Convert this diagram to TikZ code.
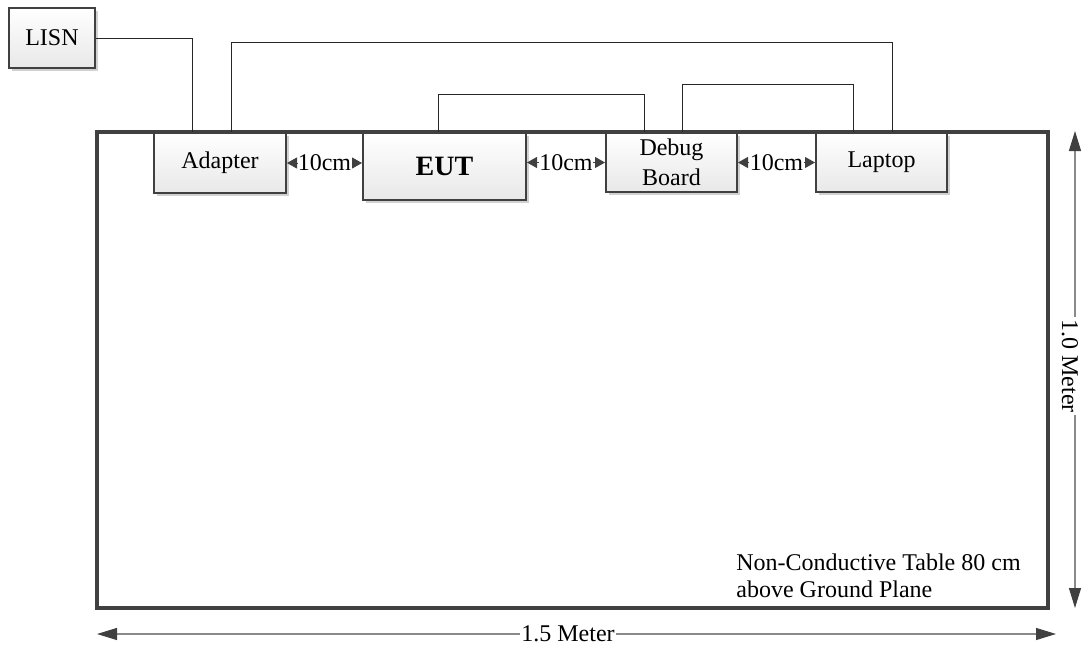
\documentclass[tikz,border=0pt]{standalone}
\usepackage{fontspec}
\setmainfont{Liberation Serif}
\usetikzlibrary{arrows.meta,shadows,calc}
\definecolor{boxc}{HTML}{404040}
\definecolor{dimc}{HTML}{8A8A8A}
\begin{document}
\begin{tikzpicture}[x=0.5pt,y=-0.5pt,
  box/.style={draw=boxc, line width=1pt, top color=white, bottom color=black!9,
    drop shadow={shadow xshift=1.5pt, shadow yshift=-1.5pt, fill=black!18, opacity=1},
    inner sep=0pt, font=\fontsize{12}{15}\selectfont, align=center},
  tablebox/.style={draw=boxc, line width=1.6pt, fill=white, inner sep=0pt,
    drop shadow={shadow xshift=1pt, shadow yshift=-1pt, fill=black!15, opacity=1}},
  wire/.style={draw=black!85, line width=0.5pt},
  gap/.style={font=\fontsize{12}{14}\selectfont, inner sep=0pt},
  gaptip/.style={draw=boxc, line width=0.5pt, -{Triangle[length=5pt,width=5.5pt]}},
  dim/.style={draw=dimc, line width=0.6pt, -{Triangle[length=10pt,width=6pt,color=boxc]}},
  dimlabel/.style={fill=white, inner sep=0.5pt, font=\fontsize{12}{14}\selectfont},
  note/.style={anchor=west, align=left, inner sep=0pt, font=\fontsize{12}{13.5}\selectfont}
]
\useasboundingbox (0,0) rectangle (1084,650);

% table
\node[tablebox, minimum width=475.5pt, minimum height=238pt] (tbl) at (572.5,370) {};

% boxes
\node[box, minimum width=43pt, minimum height=30pt] (lisn) at (52,38) {LISN};
\node[box, minimum width=66pt, minimum height=30pt] (adapter) at (220,162.5) {Adapter};
\node[box, minimum width=81.5pt, minimum height=33.5pt, font=\bfseries\fontsize{14}{16}\selectfont] (eut) at (444.5,166.5) {EUT};
\node[box, minimum width=65.5pt, minimum height=29.5pt] (debug) at (671.5,162.5) {Debug\\Board};
\node[box, minimum width=65.5pt, minimum height=29.5pt] (laptop) at (881.5,162.5) {Laptop};

% cables
\coordinate (a1) at ($(adapter.north west)+(39,0)$);
\coordinate (a2) at ($(adapter.north west)+(78,0)$);
\coordinate (e1) at ($(eut.north west)+(76,0)$);
\coordinate (d1) at ($(debug.north west)+(39,0)$);
\coordinate (d2) at ($(debug.north west)+(77,0)$);
\coordinate (l1) at ($(laptop.north west)+(38,0)$);
\coordinate (l2) at ($(laptop.north west)+(77,0)$);
\draw[wire] (lisn.east) -| (a1);
\draw[wire] (a2) -- ++(0,-89) -| (l2);
\draw[wire] (e1) -- ++(0,-38) -| (d1);
\draw[wire] (d2) -- ++(0,-48) -| (l1);

% 10cm gaps
\node[gap] (g1) at ($(adapter.east)!0.5!(eut.west)+(0,-1.5)$) {10cm};
\draw[gaptip] (g1.west) -- (g1.west -| adapter.east);
\draw[gaptip] (g1.east) -- (g1.east -| eut.west);
\node[gap] (g2) at ($(eut.east)!0.5!(debug.west)+(0,-2)$) {10cm};
\draw[gaptip] (g2.west) -- (g2.west -| eut.east);
\draw[gaptip] (g2.east) -- (g2.east -| debug.west);
\node[gap] (g3) at ($(debug.east)!0.5!(laptop.west)$) {10cm};
\draw[gaptip] (g3.west) -- (g3.west -| debug.east);
\draw[gaptip] (g3.east) -- (g3.east -| laptop.west);

% note
\node[note] (nt) at (736,576) {Non-Conductive Table 80 cm\\above Ground Plane};

% dimensions
\coordinate (hl) at (97,634);
\coordinate (hr) at (1056,634);
\node[dimlabel] (hlab) at (568,634) {1.5 Meter};
\draw[dim] (hlab) -- (hl);
\draw[dim] (hlab) -- (hr);

\coordinate (vt) at (1075,131);
\coordinate (vb) at (1075,608);
\node[dimlabel, rotate=-90, inner sep=1pt] (vlab) at (1070,366) {1.0 Meter};
\draw[dim] (vlab.west -| vt) -- (vt);
\draw[dim] (vlab.east -| vt) -- (vb);
\end{tikzpicture}
\end{document}
